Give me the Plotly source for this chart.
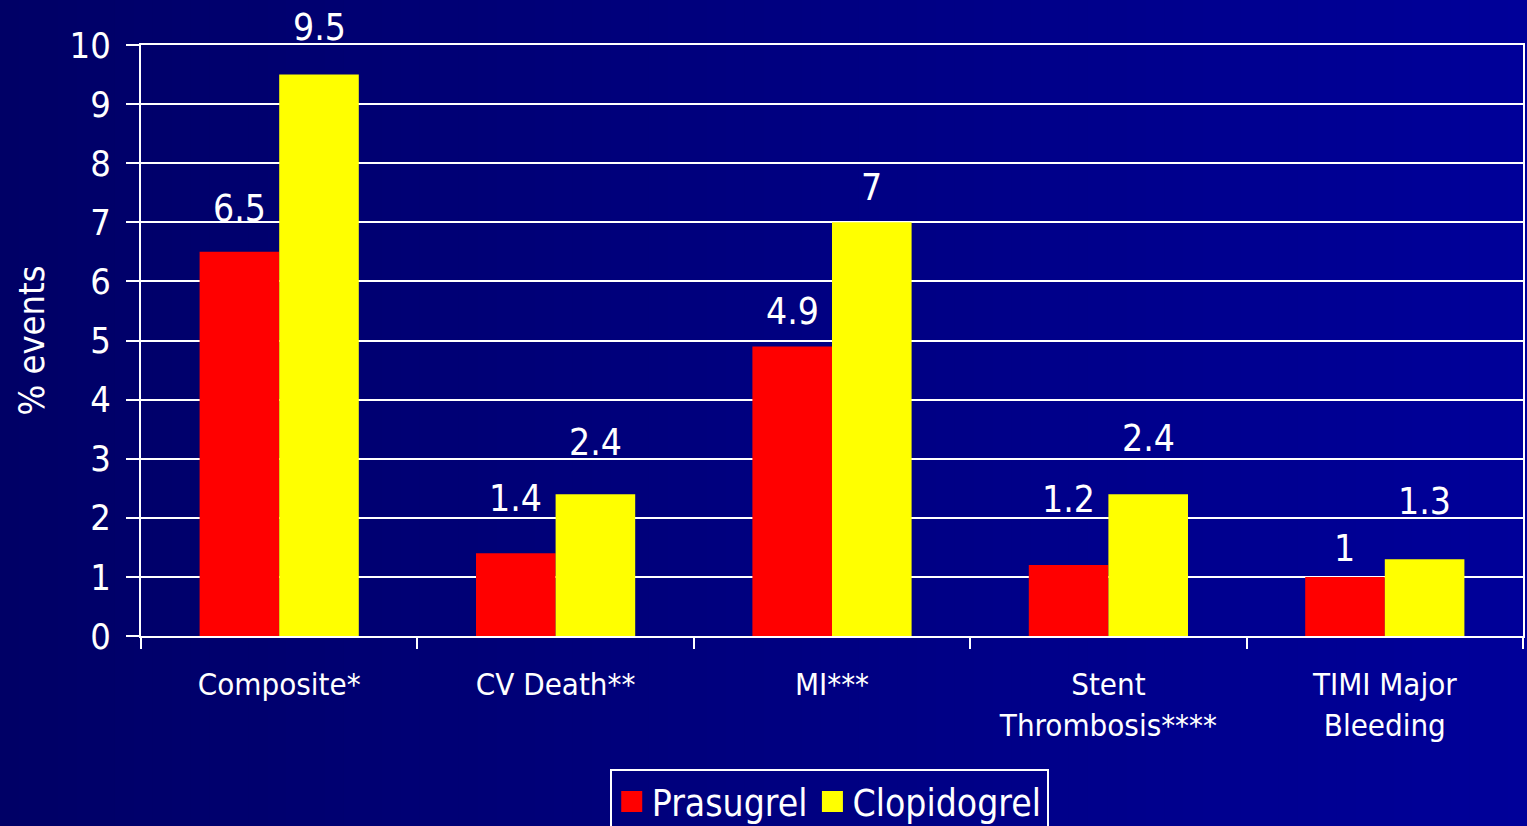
import plotly.graph_objects as go

categories = ["Composite*", "CV Death**", "MI***", "Stent<br>Thrombosis****", "TIMI Major<br>Bleeding"]
prasugrel = [6.5, 1.4, 4.9, 1.2, 1.0]
clopidogrel = [9.5, 2.4, 7.0, 2.4, 1.3]
y_ticks = list(range(0, 11))

# vertical lift (px) of each value label above its bar
prasugrel_label_lift = [43, 55, 35, 66, 28]
clopidogrel_label_lift = [47, 52, 35, 56, 58]

FONT = "DejaVu Sans Condensed, DejaVu Sans"
WHITE = "#ffffff"
RED = "#ff0000"
YELLOW = "#ffff00"

W, H = 1527, 826
M_L, M_R, M_T, M_B = 141, 4, 45, 190
BARGAP = 0.424

fig = go.Figure()
fig.add_trace(go.Bar(name="Prasugrel", x=categories, y=prasugrel, showlegend=False,
                     marker=dict(color=RED, line=dict(width=0))))
fig.add_trace(go.Bar(name="Clopidogrel", x=categories, y=clopidogrel, showlegend=False,
                     marker=dict(color=YELLOW, line=dict(width=0))))

# legend entries with large square swatches
for name, col in (("Prasugrel", RED), ("Clopidogrel", YELLOW)):
    fig.add_trace(go.Scatter(x=[None], y=[None], mode="markers", name=name,
                             marker=dict(symbol="square", size=16, color=col,
                                         line=dict(width=5, color=col))))

# value labels above each bar, offset horizontally to sit over its own bar
plot_w = W - M_L - M_R
plot_h = H - M_T - M_B
bar_px = plot_w / len(categories) * (1 - BARGAP) / 2
annotations = []
for series, lifts, dx in ((prasugrel, prasugrel_label_lift, -bar_px / 2),
                          (clopidogrel, clopidogrel_label_lift, bar_px / 2)):
    for cat, v, lift in zip(categories, series, lifts):
        annotations.append(dict(
            x=cat, y=v, xref="x", yref="y", text=f"{v:g}", showarrow=False,
            xshift=dx, yshift=lift, yanchor="middle", xanchor="center",
            font=dict(family=FONT, size=37, color=WHITE)))

# horizontal dark-to-lighter navy background covering the whole page
shapes = []
n_strips = 80
c0, c1 = (0, 0, 0x66), (0, 0, 0x99)
px0, px1 = -M_L / plot_w, 1 + M_R / plot_w
py0, py1 = -M_B / plot_h, 1 + M_T / plot_h
for i in range(n_strips):
    t = i / (n_strips - 1)
    col = tuple(round(a + (b - a) * t) for a, b in zip(c0, c1))
    fx0 = px0 + (px1 - px0) * i / n_strips
    fx1 = px0 + (px1 - px0) * (i + 1.05) / n_strips
    shapes.append(dict(type="rect", xref="paper", yref="paper", layer="below",
                       x0=fx0, x1=fx1, y0=py0 - 0.01, y1=py1 + 0.01,
                       line=dict(width=0), fillcolor=f"rgb{col}"))

fig.update_layout(
    width=W, height=H,
    margin=dict(l=M_L, r=M_R, t=M_T, b=M_B, autoexpand=False),
    paper_bgcolor="#000080",
    plot_bgcolor="rgba(0,0,0,0)",
    barmode="group", bargap=BARGAP, bargroupgap=0,
    font=dict(family=FONT, color=WHITE),
    shapes=shapes,
    annotations=annotations,
    showlegend=True,
    legend=dict(orientation="h", xref="paper", x=0.498, xanchor="center",
                yref="container", y=1 - 769 / H, yanchor="top",
                bgcolor="rgba(0,0,0,0)", bordercolor=WHITE, borderwidth=2,
                font=dict(family=FONT, size=37, color=WHITE),
                itemsizing="trace", traceorder="normal", itemwidth=30),
    xaxis=dict(
        showline=True, linecolor=WHITE, linewidth=2, mirror=True,
        ticks="outside", tickson="boundaries", ticklen=11, tickwidth=2, tickcolor=WHITE,
        showgrid=False, ticklabelstandoff=20,
        tickfont=dict(family=FONT, size=31, color=WHITE),
    ),
    yaxis=dict(
        range=[0, 10], tickvals=y_ticks, ticktext=[str(v) for v in y_ticks],
        showline=True, linecolor=WHITE, linewidth=2, mirror=True,
        ticks="outside", ticklen=13, tickwidth=2, tickcolor=WHITE,
        showgrid=True, gridcolor=WHITE, gridwidth=2, zeroline=False,
        ticklabelstandoff=8,
        tickfont=dict(family=FONT, size=36, color=WHITE),
        title=dict(text="% events", font=dict(family=FONT, size=36, color=WHITE), standoff=14),
    ),
)

fig.write_html("out.html")
